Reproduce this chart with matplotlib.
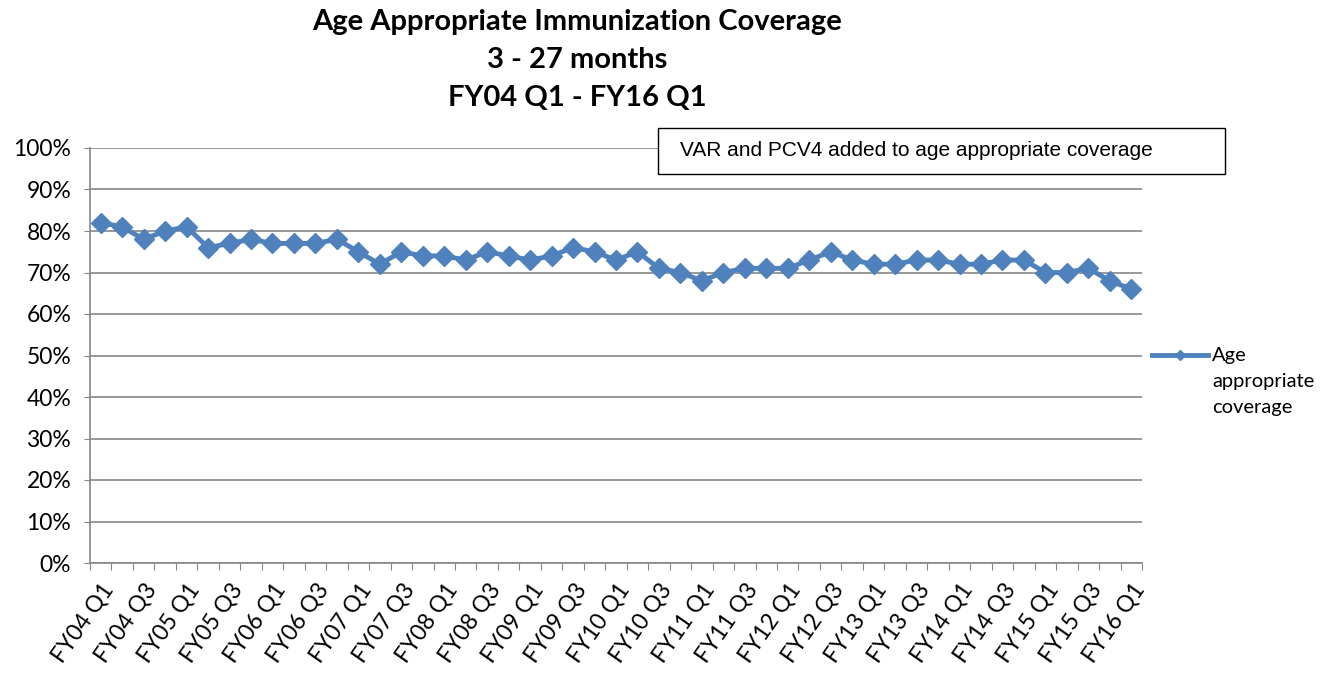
import numpy as np
import matplotlib
matplotlib.use("Agg")
import matplotlib.pyplot as plt
from matplotlib.lines import Line2D
from matplotlib.patches import Rectangle
from matplotlib.ticker import FixedLocator, PercentFormatter

# quarterly coverage, FY04 Q1 .. FY16 Q1 (49 quarters)
coverage = [
    82, 81, 78, 80, 81, 76, 77, 78, 77, 77, 77, 78, 75, 72, 75, 74, 74,
    73, 75, 74, 73, 74, 76, 75, 73, 75, 71, 70, 68, 70, 71, 71, 71, 73,
    75, 73, 72, 72, 73, 73, 72, 72, 73, 73, 70, 70, 71, 68, 66,
]

tick_labels = [
    "FY04 Q1", "FY04 Q3", "FY05 Q1", "FY05 Q3", "FY06 Q1", "FY06 Q3",
    "FY07 Q1", "FY07 Q3", "FY08 Q1", "FY08 Q3", "FY09 Q1", "FY09 Q3",
    "FY10 Q1", "FY10 Q3", "FY11 Q1", "FY11 Q3", "FY12 Q1", "FY12 Q3",
    "FY13 Q1", "FY13 Q3", "FY14 Q1", "FY14 Q3", "FY15 Q1", "FY15 Q3",
    "FY16 Q1",
]

series_name = ["Age", "appropriate", "coverage"]
note = "VAR and PCV4 added to age appropriate coverage"

plt.rcParams["font.family"] = ["Lato", "DejaVu Sans"]

W, H = 1330, 673
fig = plt.figure(figsize=(W / 100, H / 100), dpi=100)
ax = fig.add_axes([90 / W, 1 - 563 / H, (1142 - 90) / W, (563 - 148) / H])

x = np.arange(len(coverage))
ax.plot(
    x, coverage,
    color="#4F81BD",
    linewidth=3.5,
    marker="D",
    markersize=10.5,
)

ax.set_xlim(-0.5, len(coverage) - 0.5)
ax.set_ylim(0, 100)
ax.set_yticks(np.arange(0, 101, 10))
ax.yaxis.set_major_formatter(PercentFormatter(decimals=0))

# ticks on category boundaries, labels on every other category
ax.xaxis.set_major_locator(FixedLocator(np.arange(-0.5, len(coverage), 1)))
ax.xaxis.set_major_formatter(plt.NullFormatter())
ax.xaxis.set_minor_locator(FixedLocator(np.arange(0, len(coverage), 2)))
ax.set_xticklabels(tick_labels, minor=True, rotation=55,
                   ha="right", va="top", rotation_mode="anchor")

ax.tick_params(axis="x", which="major", length=5, color="#868686")
ax.tick_params(axis="x", which="minor", length=0, pad=12, labelsize=16.5)
ax.tick_params(axis="y", length=4.5, color="#868686", labelsize=16.5, pad=9)

ax.grid(axis="y", color="#868686", linewidth=1.2)
ax.set_axisbelow(True)
for side in ["top", "right"]:
    ax.spines[side].set_visible(False)
for side in ["left", "bottom"]:
    ax.spines[side].set_color("#868686")
    ax.spines[side].set_linewidth(1.2)

title_lines = ["Age Appropriate Immunization Coverage", "3 - 27 months",
               "FY04 Q1 - FY16 Q1"]
for i, t in enumerate(title_lines):
    fig.text(577 / W, 1 - (22 + 38 * i) / H, t, ha="center", va="center",
             fontsize=21, fontweight="bold")

# note box
fig.patches.append(Rectangle((658 / W, 1 - 174 / H), (1225 - 658) / W,
                             (174 - 128) / H, transform=fig.transFigure,
                             facecolor="white", edgecolor="black",
                             linewidth=1, zorder=5))
fig.text(680 / W, 1 - 151 / H, note, ha="left", va="center", fontsize=15,
         family=["Liberation Sans"], zorder=6)

# legend drawn by hand so the key sits on the first text line
key = Line2D([1152 / W, 1180 / W, 1208 / W], [1 - 355 / H] * 3,
             transform=fig.transFigure, color="#4F81BD", linewidth=3.5,
             marker="D", markersize=5, markevery=[1])
fig.lines.append(key)
for i, word in enumerate(series_name):
    fig.text(1212 / W, 1 - (355 + 26 * i) / H, word, ha="left",
             va="center", fontsize=14.5)

fig.savefig("out.png", dpi=100)
